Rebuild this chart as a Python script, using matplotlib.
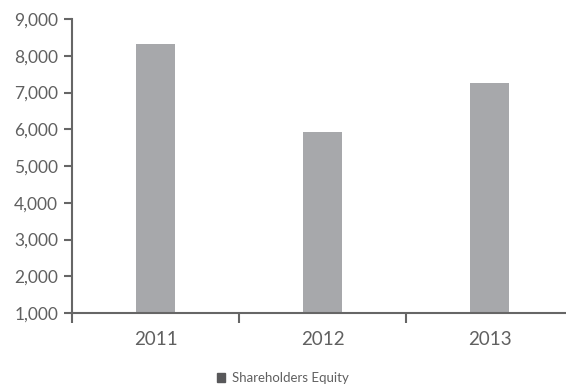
import matplotlib.pyplot as plt
from matplotlib.patches import Patch

# shareholders equity by year
years = ['2011', '2012', '2013']
equity = [8320, 5925, 7260]

plt.rcParams['font.family'] = ['Lato', 'DejaVu Sans']
txt = '#606060'

fig = plt.figure(figsize=(5.66, 3.86), dpi=100)
ax = fig.add_axes([72 / 566, 1 - 313 / 386, 501 / 566, 294 / 386])

x = range(len(years))
ax.bar(x, equity, width=0.235, color='#a7a8ab', bottom=0)
ax.set_ylim(1000, 9000)
ax.set_xlim(-0.5, 2.5)
ax.set_yticks(range(1000, 9001, 1000))
ax.set_yticklabels([f'{v:,}' for v in range(1000, 9001, 1000)])

# category labels centred, tick marks on band edges
ax.set_xticks(list(x))
ax.set_xticklabels(years)
ax.set_xticks([-0.5, 0.5, 1.5, 2.5], minor=True)
ax.tick_params(axis='x', which='major', length=0, pad=13, labelsize=13.5, colors=txt)
ax.tick_params(axis='x', which='minor', length=7, width=1.5, color='#666666', direction='out')
ax.tick_params(axis='y', length=6, width=1.5, color='#666666', labelsize=12.5, labelcolor=txt, pad=4)

for s in ['top', 'right']:
    ax.spines[s].set_visible(False)
for s in ['left', 'bottom']:
    ax.spines[s].set_color('#666666')
    ax.spines[s].set_linewidth(1.5)

fig.legend(handles=[Patch(color='#58585a', label='Shareholders Equity')],
           loc='center', bbox_to_anchor=(0.5, 1 - 378 / 386), frameon=False,
           handlelength=0.6, handleheight=0.6, handletextpad=0.5,
           fontsize=9.5, labelcolor=txt)

fig.savefig('out.png', dpi=100)
